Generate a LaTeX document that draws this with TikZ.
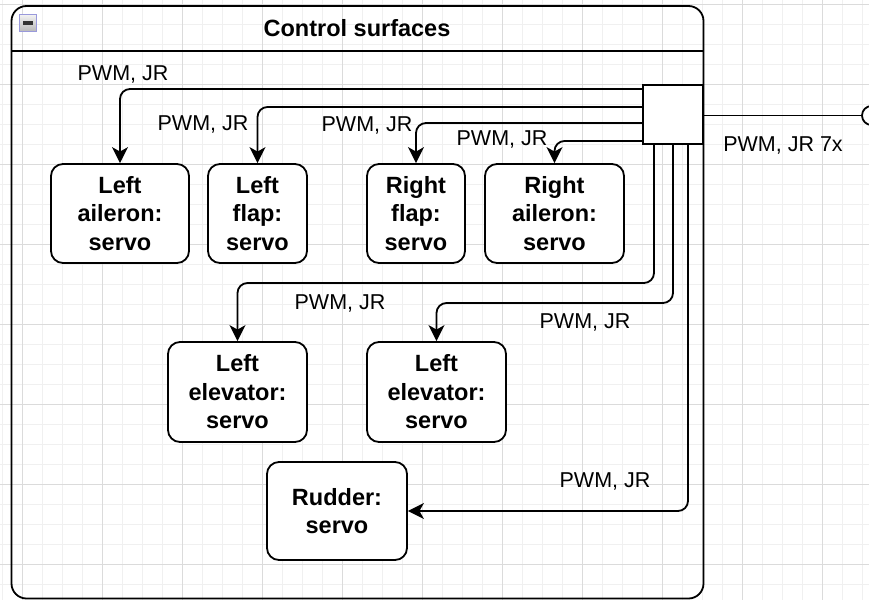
\documentclass[tikz,border=0pt]{standalone}
\usepackage{fontspec}
\setmainfont{Liberation Sans}
\usetikzlibrary{arrows.meta,calc}

\tikzset{
  servobox/.style={draw, line width=1.8pt, rounded corners=12pt, fill=white,
    align=center, inner sep=0pt,
    font=\fontsize{23.5}{28.5}\selectfont\bfseries},
  hubbox/.style={draw, line width=1.8pt, fill=white, inner sep=0pt,
    minimum width=60pt, minimum height=59pt},
  conn/.style={line width=1.8pt, rounded corners=10pt,
    -{Stealth[length=16pt,width=16pt,inset=4.5pt]}},
  wire/.style={line width=1.8pt},
  sig/.style={font=\fontsize{21.5}{25}\selectfont, inner sep=1pt},
  gridminor/.style={draw=black!6, line width=1pt},
  gridmajor/.style={draw=black!14, line width=1pt},
}

\begin{document}
\begin{tikzpicture}[x=1pt, y=-1pt]
\useasboundingbox (0,0) rectangle (869,600);

% background grid
\foreach \gx in {2,22,...,862} \draw[gridminor] (\gx,0) -- (\gx,600);
\foreach \gy in {4,24,...,594} \draw[gridminor] (0,\gy) -- (869,\gy);
\foreach \gx in {22,102,...,822} \draw[gridmajor] (\gx,0) -- (\gx,600);
\foreach \gy in {4,84,...,564} \draw[gridmajor] (0,\gy) -- (869,\gy);

% swimlane container
\draw[line width=1.8pt, rounded corners=15pt] (11.5,6) rectangle (703.5,598.5);
\draw[line width=1.8pt] (11.5,51) -- (703.5,51);
\node[font=\fontsize{23.5}{28}\selectfont\bfseries] (title) at (357,28) {Control surfaces};

% collapse icon
\shade[top color=black!5, bottom color=black!28] (19.5,14.5) rectangle (36.5,31.5);
\draw[draw=black!35!blue!40!white, line width=1.3pt] (19.5,14.5) rectangle (36.5,31.5);
\draw[line width=3.5pt, draw=black!80] (23,23) -- (33,23);

% servo boxes
\node[servobox, minimum width=138pt, minimum height=99pt] (la) at (120,213.5) {Left\\aileron:\\servo};
\node[servobox, minimum width=99pt, minimum height=99pt] (lf) at (257.5,213.5) {Left\\flap:\\servo};
\node[servobox, minimum width=98pt, minimum height=99pt] (rf) at (416,213.5) {Right\\flap:\\servo};
\node[servobox, minimum width=139pt, minimum height=99pt] (ra) at (554.5,213.5) {Right\\aileron:\\servo};
\node[servobox, minimum width=139pt, minimum height=100pt] (le1) at (237.5,392) {Left\\elevator:\\servo};
\node[servobox, minimum width=139pt, minimum height=100pt] (le2) at (436.5,392) {Left\\elevator:\\servo};
\node[servobox, minimum width=140pt, minimum height=98pt] (rud) at (337,511) {Rudder:\\servo};

% distribution hub and external port
\node[hubbox] (hub) at (673,114.5) {};
\node[draw, circle, line width=1.8pt, fill=white, minimum size=19pt, inner sep=0pt] (port) at (871.5,115.5) {};
\draw[wire] (hub.east |- 0,115.5) -- (port.west);

% signal connectors
\draw[conn] (hub.west |- 0,89) -| (la.north);
\draw[conn] (hub.west |- 0,107) -| (lf.north);
\draw[conn] (hub.west |- 0,123) -| (rf.north);
\draw[conn] (hub.west |- 0,141) -| (ra.north);
\draw[conn] (hub.south -| 654,0) |- (le1.north |- 0,283) -- (le1.north);
\draw[conn] (hub.south -| 673,0) |- (le2.north |- 0,303) -- (le2.north);
\draw[conn] (hub.south -| 688,0) |- (rud.east);

% connector labels
\node[sig] (s1) at (123,74) {PWM, JR};
\node[sig] (s2) at (203,124) {PWM, JR};
\node[sig] (s3) at (367,125) {PWM, JR};
\node[sig] (s4) at (502,139) {PWM, JR};
\node[sig] (s5) at (340,303) {PWM, JR};
\node[sig] (s6) at (585,322) {PWM, JR};
\node[sig] (s7) at (605,481) {PWM, JR};
\node[sig] (s8) at (783,145) {PWM, JR 7x};
\end{tikzpicture}
\end{document}
